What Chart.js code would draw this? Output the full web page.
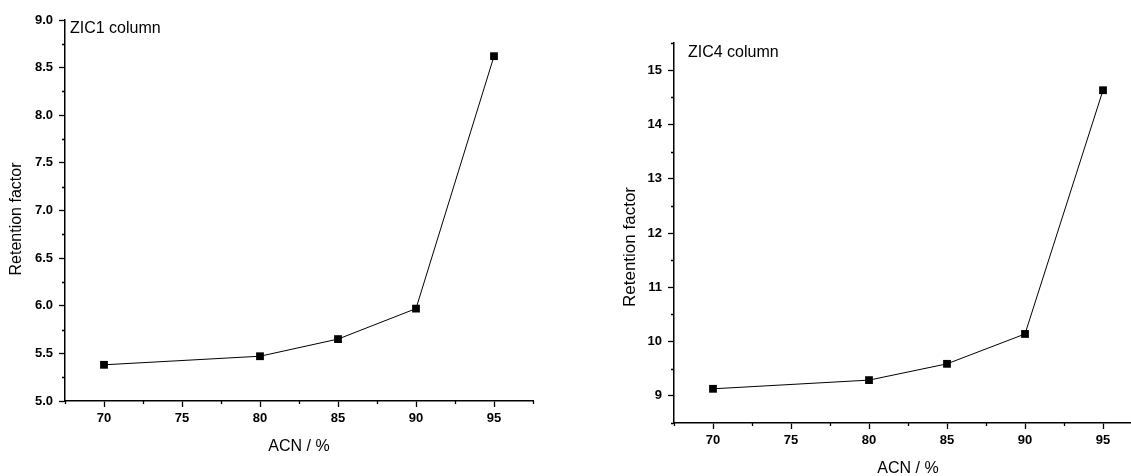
<!DOCTYPE html>
<html>
<head>
<meta charset="utf-8">
<script src="https://cdn.jsdelivr.net/npm/chart.js@4.4.1/dist/chart.umd.min.js"></script>
<style>
  html, body { margin: 0; padding: 0; background: #fff; overflow: hidden; }
  body { width: 1131px; height: 476px; position: relative; }
  canvas { position: absolute; top: 0; }
</style>
</head>
<body>
<canvas id="zic1" width="560" height="500" style="left:0"></canvas>
<canvas id="zic4" width="590" height="500" style="left:570px"></canvas>
<script>
// data
const acn = [70, 80, 85, 90, 95];
const zic1Retention = [5.38, 5.47, 5.65, 5.97, 8.62];
const zic4Retention = [9.13, 9.29, 9.59, 10.14, 14.63];

// ticks
const xMajorTicks = [70, 75, 80, 85, 90, 95];
const xMinorTicks = [67.5, 72.5, 77.5, 82.5, 87.5, 92.5, 97.5];
const zic1MajorTicks = [5.0, 5.5, 6.0, 6.5, 7.0, 7.5, 8.0, 8.5, 9.0];
const zic1MinorTicks = [5.25, 5.75, 6.25, 6.75, 7.25, 7.75, 8.25, 8.75];
const zic4MajorTicks = [9, 10, 11, 12, 13, 14, 15];
const zic4MinorTicks = [8.5, 9.5, 10.5, 11.5, 12.5, 13.5, 14.5, 15.5];

const FONT = '"Liberation Sans", Arial, sans-serif';

// Origin style short minor ticks, outside the axes
const minorTicks = {
    id: 'minorTicks',
    afterDraw(chart, args, opts) {
        const { ctx, chartArea, scales: { x, y } } = chart;
        ctx.save();
        ctx.strokeStyle = '#000';
        ctx.lineWidth = 1.3;
        ctx.beginPath();
        opts.x.forEach(v => {
            const px = Math.round(x.getPixelForValue(v)) + 0.5;
            ctx.moveTo(px, chartArea.bottom);
            ctx.lineTo(px, chartArea.bottom + opts.len);
        });
        opts.y.forEach(v => {
            const py = Math.round(y.getPixelForValue(v)) + 0.5;
            ctx.moveTo(chartArea.left, py);
            ctx.lineTo(chartArea.left - opts.len, py);
        });
        ctx.stroke();
        ctx.restore();
    }
};

// panel label inside the plot + y axis title
const panelText = {
    id: 'panelText',
    afterDraw(chart, args, opts) {
        const ctx = chart.ctx;
        ctx.save();
        ctx.fillStyle = '#000';
        ctx.font = '16px ' + FONT;
        ctx.textAlign = 'left';
        ctx.textBaseline = 'alphabetic';
        ctx.fillText(opts.label, opts.labelX, opts.labelY);
        ctx.translate(opts.titleX, opts.titleY);
        ctx.rotate(-Math.PI / 2);
        ctx.font = opts.titleSize + 'px ' + FONT;
        ctx.textAlign = 'center';
        ctx.textBaseline = 'middle';
        ctx.fillText('Retention factor', 0, 0);
        ctx.restore();
    }
};

function makeChart(canvasId, values, yMin, yMax, yMajor, yMinor, decimals, panel) {
    const tickFont = { family: FONT, size: 13, weight: 'bold' };
    const ctx = document.getElementById(canvasId).getContext('2d');
    return new Chart(ctx, {
        type: 'scatter',
        data: {
            datasets: [{
                data: acn.map((v, i) => ({ x: v, y: values[i] })),
                showLine: true,
                borderColor: '#000',
                borderWidth: 1,
                pointStyle: 'rect',
                pointRadius: 5.5,
                pointBackgroundColor: '#000',
                pointBorderWidth: 0
            }]
        },
        options: {
            responsive: false,
            animation: false,
            layout: { padding: panel.padding },
            plugins: {
                legend: { display: false },
                tooltip: { enabled: false },
                minorTicks: { x: xMinorTicks, y: yMinor, len: 3 },
                panelText: panel.text
            },
            scales: {
                x: {
                    type: 'linear',
                    min: 67.5,
                    max: 97.5,
                    afterBuildTicks: s => { s.ticks = xMajorTicks.map(v => ({ value: v })); },
                    afterFit: s => { s.height = panel.xHeight; },
                    border: { color: '#000', width: 1.5 },
                    grid: { drawOnChartArea: false, drawTicks: true, tickLength: 6, tickWidth: 1.3, tickColor: '#000' },
                    ticks: { color: '#000', font: tickFont, padding: 4, maxRotation: 0, autoSkip: false },
                    title: {
                        display: true,
                        text: 'ACN / %',
                        color: '#000',
                        font: { family: FONT, size: 16 },
                        padding: { top: 0, bottom: panel.xTitlePad }
                    }
                },
                y: {
                    type: 'linear',
                    min: yMin,
                    max: yMax,
                    afterBuildTicks: s => { s.ticks = yMajor.map(v => ({ value: v })); },
                    afterFit: s => { s.width = panel.yWidth; },
                    border: { color: '#000', width: 1.5 },
                    grid: { drawOnChartArea: false, drawTicks: true, tickLength: 6, tickWidth: 1.3, tickColor: '#000' },
                    ticks: { color: '#000', font: tickFont, padding: 6, callback: v => v.toFixed(decimals) }
                }
            }
        },
        plugins: [minorTicks, panelText]
    });
}

makeChart('zic1', zic1Retention, 5, 9, zic1MajorTicks, zic1MinorTicks, 1, {
    padding: { top: 20, right: 27, left: 0, bottom: 0 },
    yWidth: 65,
    xHeight: 99,
    xTitlePad: 44,
    text: { label: 'ZIC1 column', labelX: 70, labelY: 33, titleX: 17, titleY: 219, titleSize: 16 }
});

makeChart('zic4', zic4Retention, 8.5, 15.5, zic4MajorTicks, zic4MinorTicks, 0, {
    padding: { top: 43, right: 18, left: 0, bottom: 0 },
    yWidth: 104,
    xHeight: 77,
    xTitlePad: 22,
    text: { label: 'ZIC4 column', labelX: 118, labelY: 57, titleX: 60, titleY: 247, titleSize: 17 }
});
</script>
</body>
</html>
